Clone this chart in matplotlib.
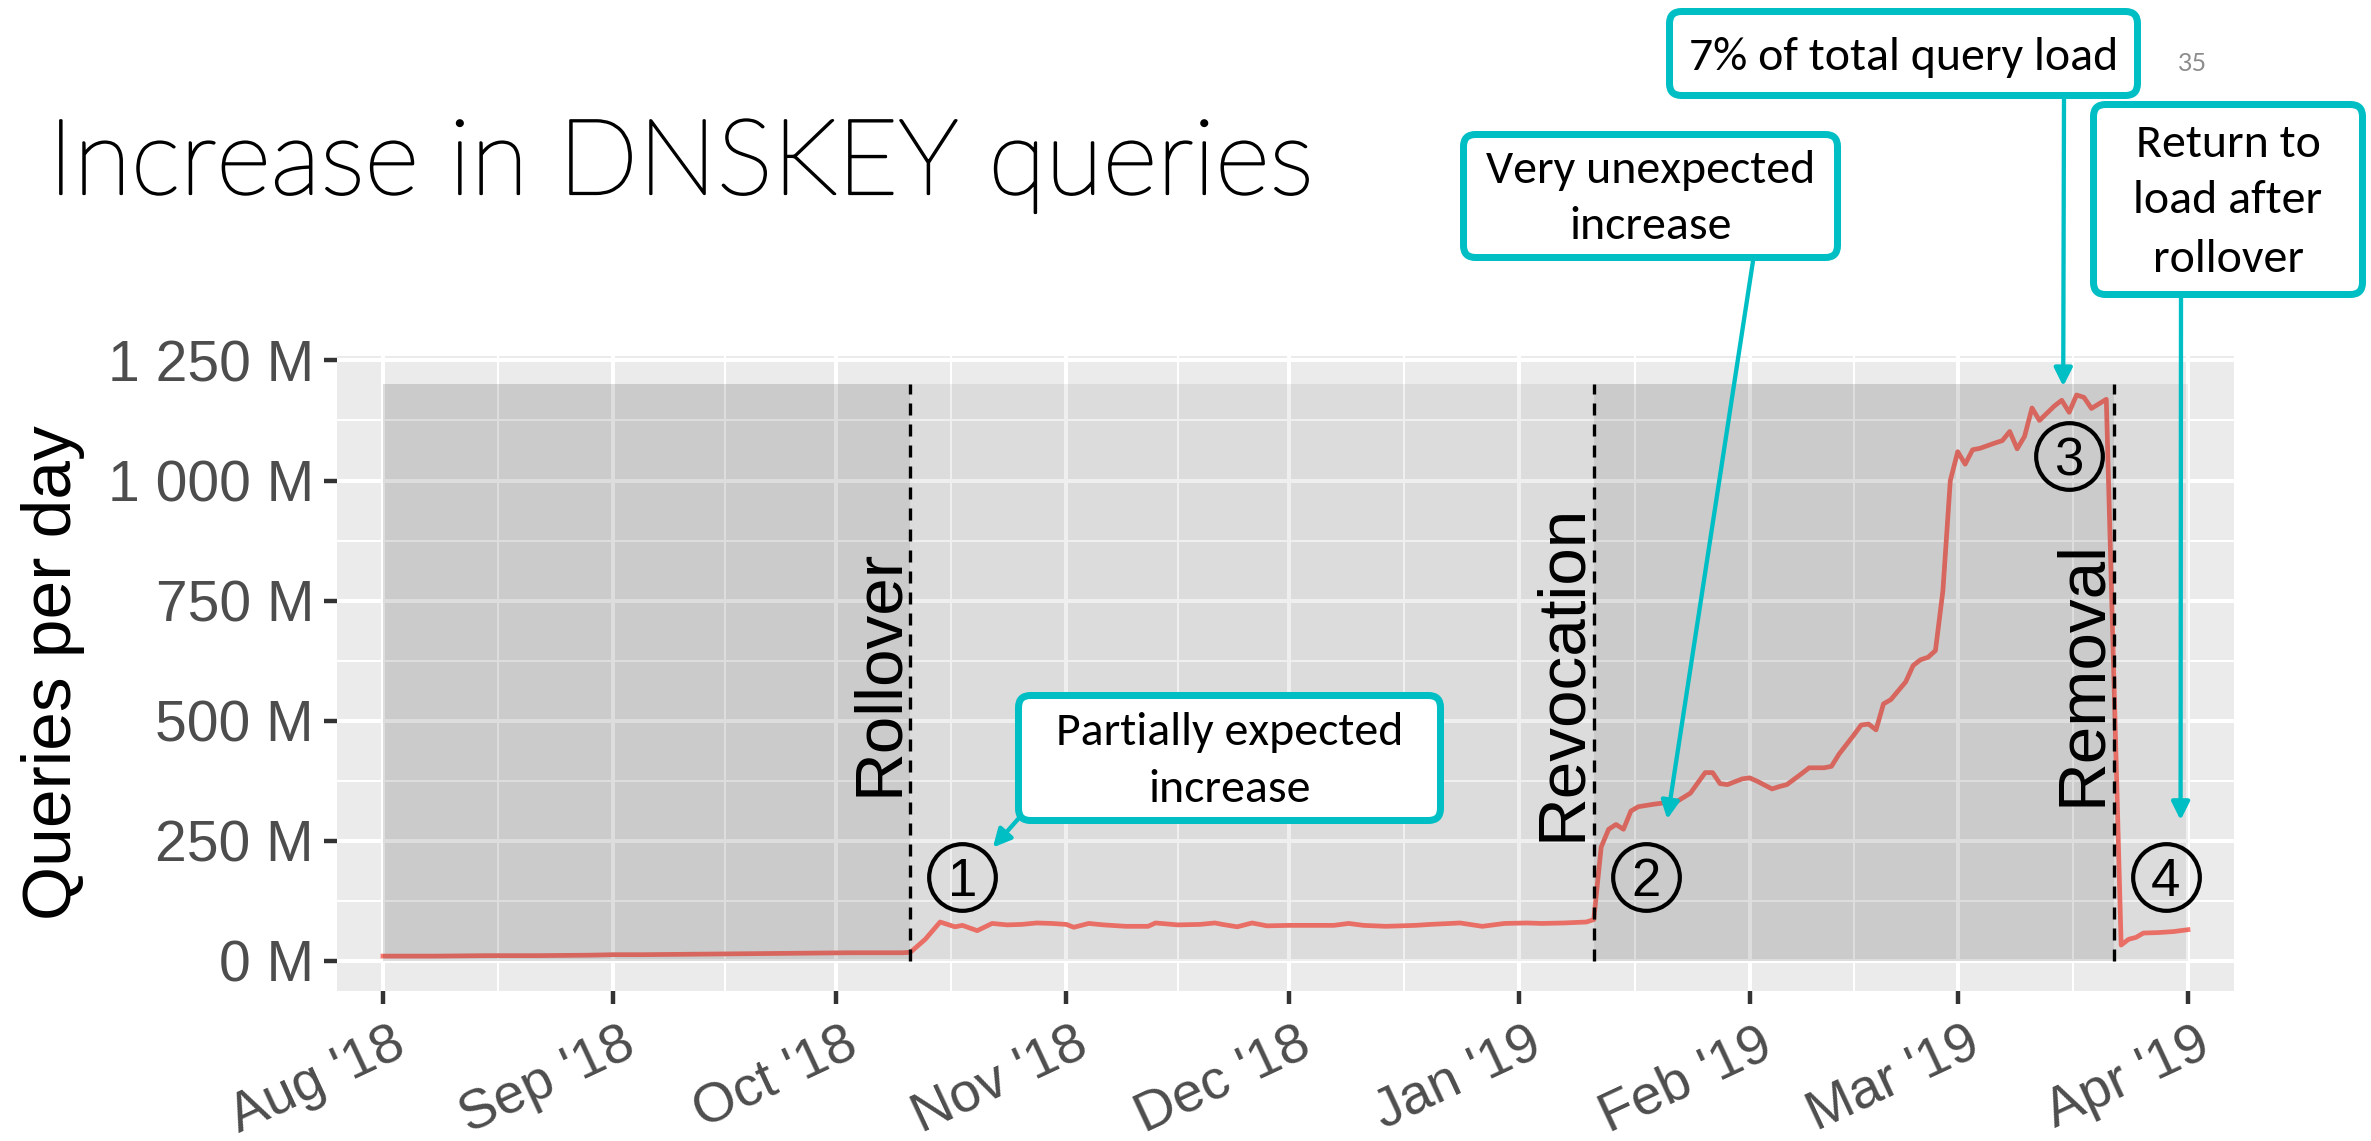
import datetime as dt
import numpy as np
import matplotlib
matplotlib.use("Agg")
import matplotlib.pyplot as plt
import matplotlib.dates as mdates
import matplotlib.transforms as mtransforms
import matplotlib.patheffects as pe
from matplotlib.patches import FancyBboxPatch
from matplotlib.ticker import MultipleLocator, FixedLocator

# ---------------- data ----------------
start = dt.date(2018, 8, 1)
days = [0, 7, 14, 21, 28, 31, 35, 42, 49, 56, 63, 70,
        71, 73, 75, 77, 78, 80, 82, 84, 86, 88, 90, 92, 93, 95, 97, 100, 103, 104,
        107, 110, 112, 113, 115, 117, 119, 122, 125, 128, 130, 132, 135, 139, 141,
        145, 148, 151, 154, 156, 159, 162, 163,
        164, 165, 166, 167, 168, 169, 171, 173, 174, 176, 178, 179, 180, 181, 183,
        184, 185, 187, 188, 189, 191, 192, 194, 195, 196, 198, 199, 200, 201, 202,
        203, 205, 206, 207, 208, 209, 210, 211, 212, 213, 214, 215, 217, 218, 219,
        220, 221, 222, 223, 225, 226, 227, 228, 229, 230, 232,
        234, 235, 236, 237, 239, 241, 243]
queries_m = [10, 10, 11, 11, 12, 13, 13, 14, 15, 16, 17, 17,
             18, 45, 81, 71, 74, 63, 78, 75, 76, 79, 78, 76, 70, 78, 75, 72, 72, 79,
             75, 76, 79, 76, 71, 79, 73, 74, 74, 74, 78, 74, 72, 74, 76,
             79, 72, 78, 79, 78, 79, 81, 86,
             237, 274, 284, 274, 312, 321, 326, 330, 330, 349, 392, 392, 369, 367, 379,
             381, 374, 358, 363, 367, 390, 402, 402, 405, 430, 470, 491, 493, 481, 535,
             544, 581, 615, 627, 632, 646, 770, 1000, 1060, 1034, 1064, 1067, 1078, 1083, 1102,
             1066, 1092, 1151, 1125, 1155, 1167, 1142, 1178, 1173, 1150, 1169,
             33, 45, 49, 58, 59, 61, 65]

month_ticks = [dt.date(2018, 8, 1), dt.date(2018, 9, 1), dt.date(2018, 10, 1),
               dt.date(2018, 11, 1), dt.date(2018, 12, 1), dt.date(2019, 1, 1),
               dt.date(2019, 2, 1), dt.date(2019, 3, 1), dt.date(2019, 4, 1)]
month_labels = ["Aug '18", "Sep '18", "Oct '18", "Nov '18", "Dec '18",
                "Jan '19", "Feb '19", "Mar '19", "Apr '19"]
y_ticks = [0, 250, 500, 750, 1000, 1250]

phase_edges = [dt.date(2018, 8, 1), dt.date(2018, 10, 11), dt.date(2019, 1, 11),
               dt.date(2019, 3, 22), dt.date(2019, 4, 1)]
shade_top = 1200

events = ["Rollover", "Revocation", "Removal"]
event_dates = [dt.date(2018, 10, 11), dt.date(2019, 1, 11), dt.date(2019, 3, 22)]

marker_labels = ["1", "2", "3", "4"]
marker_days = [78, 170, 227, 240]
marker_values = [175, 175, 1050, 175]

callout_lines = [["Partially expected", "increase"],
                 ["Very unexpected", "increase"],
                 ["7% of total query load"],
                 ["Return to", "load after", "rollover"]]
callout_tip_days = [82.1, 172.9, 226.2, 242.0]
callout_tip_values = [236, 295, 1196, 293]

title = "Increase in DNSKEY queries"
page_number = "35"

# ---------------- style / layout ----------------
W, H = 2371, 1141
TEAL = "#00BFC4"
LINE = "#F8766D"
plt.rcParams["font.family"] = ["Liberation Sans", "DejaVu Sans"]
CALLOUT_FONT = ["Carlito", "Lato", "DejaVu Sans"]

fig = plt.figure(figsize=(W / 100, H / 100), dpi=100)
fig.patch.set_facecolor("white")
PX = mtransforms.Affine2D().scale(1 / W, -1 / H).translate(0, 1) + fig.transFigure

ax_l, ax_r, ax_t, ax_b = 336.7, 2234.0, 355.6, 990.7
ax = fig.add_axes([ax_l / W, 1 - ax_b / H, (ax_r - ax_l) / W, (ax_b - ax_t) / H])
ax.set_facecolor("#EBEBEB")
for s in ax.spines.values():
    s.set_visible(False)

x0 = mdates.date2num(start)
xs = x0 + np.array(days, dtype=float)
ax.plot(xs, queries_m, color=LINE, lw=3.4, zorder=2, solid_joinstyle="round")

px_per_day = (2188 - 383) / 243.0
ax.set_xlim(x0 - (383 - ax_l) / px_per_day, x0 + (ax_r - 383) / px_per_day)
ax.set_ylim(-62, 1260)

tick_nums = mdates.date2num(month_ticks)
ax.set_xticks(tick_nums)
ax.set_xticklabels(month_labels)
mids = [(a + b) / 2 for a, b in zip(tick_nums[:-1], tick_nums[1:])]
ax.xaxis.set_minor_locator(FixedLocator(mids))
ax.set_yticks(y_ticks)
ax.set_yticklabels([f"{v:,} M".replace(",", " ") for v in y_ticks])
ax.yaxis.set_minor_locator(MultipleLocator(125))

ax.set_axisbelow(True)
ax.grid(which="major", color="white", lw=2.9)
ax.grid(which="minor", color="white", lw=1.45)
ax.tick_params(which="minor", length=0)
ax.tick_params(which="major", length=9.4, width=3.2, color="#333333",
               labelcolor="#4D4D4D", labelsize=41)
ax.tick_params(axis="y", pad=7)
ax.tick_params(axis="x", pad=10.5, labelsize=40)
for lab in ax.get_xticklabels():
    lab.set_rotation(25)
    lab.set_ha("right")
    lab.set_va("top")
    lab.set_rotation_mode("anchor")
    lab.set_transform(lab.get_transform() + mtransforms.ScaledTranslation(8 / 100, 0, fig.dpi_scale_trans))

# shaded phases (drawn over the line, as in the original)
edge_nums = mdates.date2num(phase_edges)
phase_alpha = [0.132, 0.064, 0.132, 0.064]
for i in range(len(edge_nums) - 1):
    ax.fill_between([edge_nums[i], edge_nums[i + 1]], 0, shade_top, color="black",
                    alpha=phase_alpha[i], lw=0, zorder=3)

# event lines + labels
shift = mtransforms.ScaledTranslation(-13.5 / 100, 0, fig.dpi_scale_trans)
for name, d in zip(events, event_dates):
    xe = mdates.date2num(d)
    ax.plot([xe, xe], [0, shade_top], color="black", lw=2.4, ls=(0, (3.6, 2.7)), zorder=4)
    ax.text(xe, shade_top / 2, name, rotation=90, rotation_mode="anchor", ha="center",
            va="baseline", fontsize=48.5, color="black", transform=ax.transData + shift, zorder=5)

# circled numbers
for lab, d, v in zip(marker_labels, marker_days, marker_values):
    ax.plot([x0 + d], [v], marker="o", ms=48, mfc="none", mec="black", mew=3,
            zorder=6, clip_on=False)
    ax.text(x0 + d, v, lab, ha="center", va="center_baseline", fontsize=38,
            color="black", zorder=6)

# y label
fig.text(71, 672.6, "Queries per day", transform=PX, rotation=90, rotation_mode="anchor",
         ha="center", va="baseline", fontsize=50, color="black")

# ---------------- slide overlay ----------------
renderer = fig.canvas.get_renderer()


def fit_width(t, target):
    w = t.get_window_extent(renderer=renderer).width
    t.set_fontsize(t.get_fontsize() * target / w)
    return t.get_fontsize()


tt = fig.text(48, 194, title, transform=PX, ha="left", va="baseline", fontsize=80,
              family=["Lato", "DejaVu Sans"], weight="light", color="black",
              path_effects=[pe.withStroke(linewidth=1.6, foreground="black")])
fit_width(tt, 1266)

fig.text(2178, 70.7, page_number, transform=PX, ha="left", va="baseline", fontsize=18,
         family=["Lato", "DejaVu Sans"], color="#8C8C8C")

boxes = [(1015, 692, 1444, 824), (1460, 131, 1841, 261), (1666, 8, 2141, 99), (2090, 101, 2366, 298)]
baselines = [[745, 801.7], [182.7, 239.3], [70], [157.3, 213.3, 271.7]]
arrow_starts = [(1019, 818), (1753, 261), (2064, 99), (2181, 298)]

probe = fig.text(0, 0, callout_lines[2][0], transform=PX, fontsize=30, family=CALLOUT_FONT)
cfs = fit_width(probe, 430)
probe.remove()

bw = 7.0
for (bx0, by0, bx1, by1), lines, bls in zip(boxes, callout_lines, baselines):
    patch = FancyBboxPatch((bx0 + bw / 2, by0 + bw / 2), bx1 - bx0 - bw, by1 - by0 - bw,
                           boxstyle="round,pad=0,rounding_size=12", transform=PX,
                           facecolor="white", edgecolor=TEAL, lw=bw * 0.72, zorder=8)
    fig.add_artist(patch)
    cx = (bx0 + bx1) / 2
    for line, bl in zip(lines, bls):
        fig.text(cx, bl, line, transform=PX, ha="center", va="baseline", fontsize=cfs,
                 family=CALLOUT_FONT, color="black", zorder=9)

for (sx, sy), td, tv in zip(arrow_starts, callout_tip_days, callout_tip_values):
    ax.annotate("", xy=(x0 + td, tv), xycoords="data", xytext=(sx, sy), textcoords=PX,
                arrowprops=dict(arrowstyle="-|>,head_length=1.0,head_width=0.5",
                                mutation_scale=10.8, color=TEAL, lw=3.1,
                                shrinkA=0, shrinkB=0),
                annotation_clip=False, zorder=7)

fig.savefig("out.png", dpi=100)
